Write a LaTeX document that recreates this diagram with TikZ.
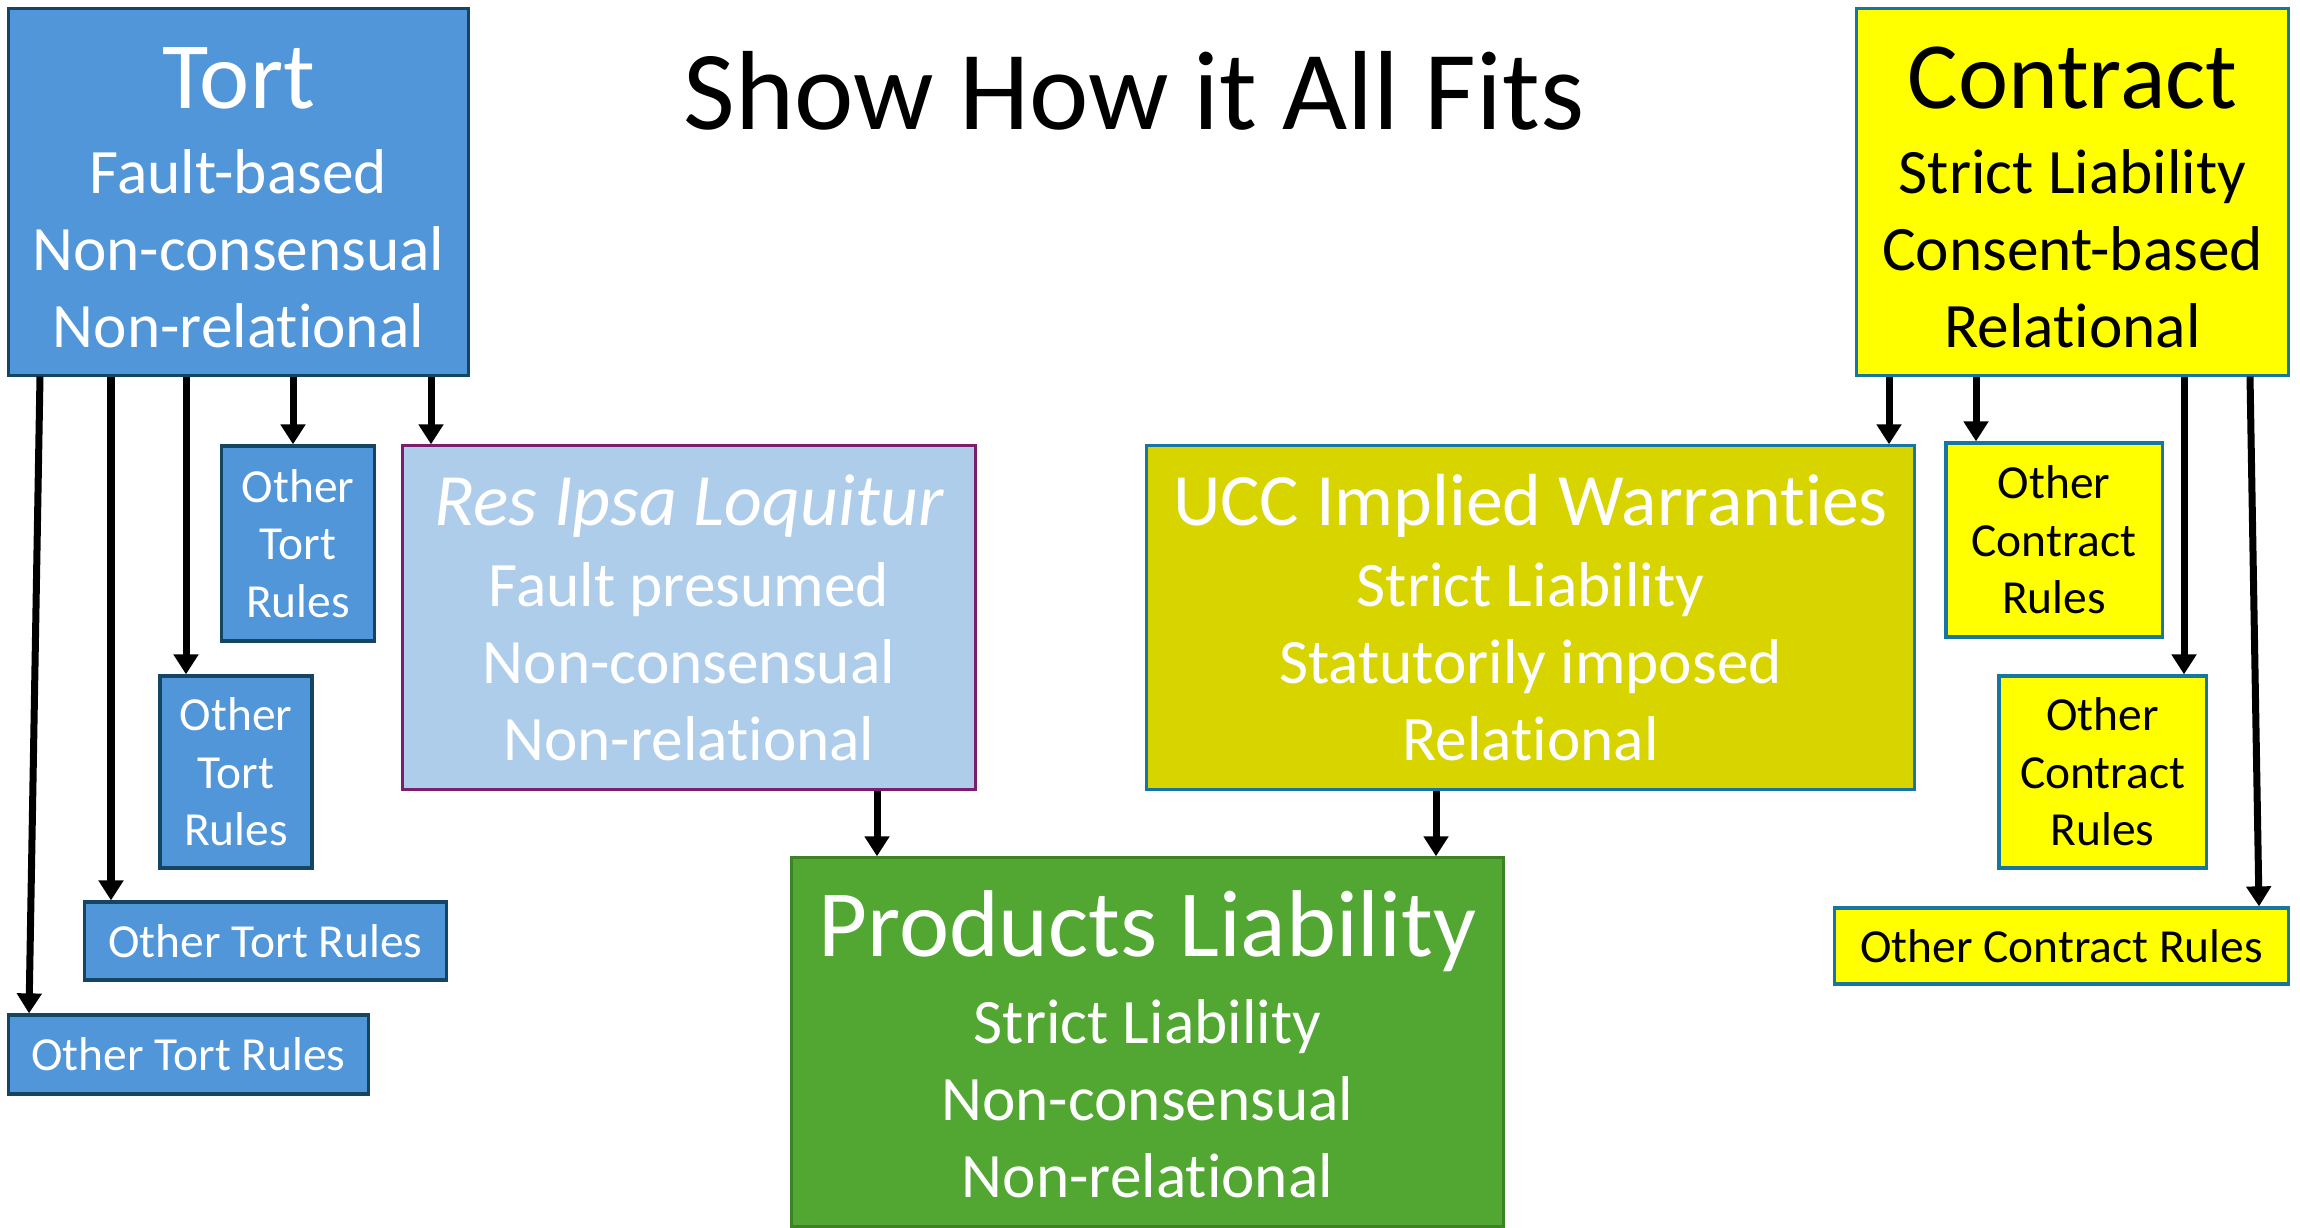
\documentclass[tikz,border=0pt]{standalone}
\usepackage{fontspec}
\setmainfont{Carlito}[Ligatures=NoCommon]
\usetikzlibrary{arrows.meta}

\definecolor{tortblu}{RGB}{81,150,217}
\definecolor{tortbordo}{RGB}{20,70,100}
\definecolor{resfondo}{RGB}{174,205,235}
\definecolor{resbordo}{RGB}{122,30,110}
\definecolor{uccfondo}{RGB}{216,212,0}
\definecolor{contrbordo}{RGB}{22,118,160}
\definecolor{giallo}{RGB}{255,255,0}
\definecolor{prodfondo}{RGB}{82,166,50}
\definecolor{prodbordo}{RGB}{62,130,38}

\newcommand{\grande}{\fontsize{27}{32}\selectfont}
\newcommand{\voce}{\fontsize{18}{21.9}\selectfont}
\newcommand{\piccolo}{\fontsize{13.5}{16.3}\selectfont}

\tikzset{
  riquadro/.style = {draw, line width=0.9pt, inner sep=0pt, align=center},
  torto/.style = {riquadro, fill=tortblu, draw=tortbordo, text=white},
  contratto/.style = {riquadro, fill=giallo, draw=contrbordo, text=black},
  freccia/.style = {-{Triangle[width=2.4mm,length=2mm]}, line width=0.7mm},
}

\begin{document}
\begin{tikzpicture}[x=0.01cm, y=-0.01cm]
    \useasboundingbox (0,0) rectangle (2300,1228);
    % Titolo
    \node[anchor=base, font=\fontsize{32}{38}\selectfont] (titolo) at (1134,130) {Show How it All Fits};
    % Riquadri principali
    \node[torto, font=\voce, minimum width=45.9mm, minimum height=36.6mm] (tort) at (238.5,192)
        {{\grande\rule{0pt}{20.5pt}Tort}\\[2.3pt] Fault-based\\ Non-consensual\\ Non-relational};
    \node[contratto, font=\voce, minimum width=43.1mm, minimum height=36.6mm] (contract) at (2072.5,192)
        {{\grande\rule{0pt}{20.5pt}Contract}\\[2.3pt] Strict Liability\\ Consent-based\\ Relational};
    \node[riquadro, fill=resfondo, draw=resbordo, text=white, font=\voce, minimum width=57.2mm, minimum height=34.3mm] (resipsa) at (689,617.5)
        {{\fontsize{21}{25}\selectfont\itshape Res Ipsa Loquitur}\\[1.1pt] Fault presumed\\ Non-consensual\\ Non-relational};
    \node[riquadro, fill=uccfondo, draw=contrbordo, text=white, font=\voce, minimum width=76.7mm, minimum height=34.3mm] (ucc) at (1530.5,617.5)
        {{\fontsize{21}{25}\selectfont UCC Implied Warranties}\\[1.1pt] Strict Liability\\ Statutorily imposed\\ Relational};
    \node[riquadro, fill=prodfondo, draw=prodbordo, text=white, font=\voce, minimum width=71.1mm, minimum height=36.8mm] (prodotti) at (1147.5,1042)
        {{\grande\rule{0pt}{20pt}Products Liability}\\[2.6pt] Strict Liability\\ Non-consensual\\ Non-relational};
    % Altre regole di tort
    \node[torto, font=\piccolo, minimum width=15.3mm, minimum height=19.5mm] (altrot1) at (298,543.5) {Other\\ Tort\\ Rules};
    \node[torto, font=\piccolo, minimum width=15.2mm, minimum height=19.2mm] (altrot2) at (236,772) {Other\\ Tort\\ Rules};
    \node[torto, font=\piccolo, minimum width=36.1mm, minimum height=7.8mm] (altrot3) at (265.5,941) {Other Tort Rules};
    \node[torto, font=\piccolo, minimum width=35.9mm, minimum height=7.9mm] (altrot4) at (188.5,1054.5) {Other Tort Rules};
    % Altre regole di contratto
    \node[contratto, font=\piccolo, minimum width=21.6mm, minimum height=19.4mm] (altroc1) at (2054,540) {Other\\ Contract\\ Rules};
    \node[contratto, font=\piccolo, minimum width=20.7mm, minimum height=19.2mm] (altroc2) at (2102.5,772) {Other\\ Contract\\ Rules};
    \node[contratto, font=\piccolo, minimum width=45.3mm, minimum height=7.6mm] (altroc3) at (2061.5,946) {Other Contract Rules};
    % Ascisse delle frecce
    \coordinate (fa) at (40,0);   \coordinate (fa') at (29,0);
    \coordinate (fb) at (111,0);
    \coordinate (fc) at (186,0);
    \coordinate (fd) at (293,0);
    \coordinate (fe) at (431,0);
    \coordinate (ff) at (1889,0);
    \coordinate (fg) at (1976,0);
    \coordinate (fh) at (2184,0);
    \coordinate (fi) at (2250,0); \coordinate (fi') at (2259,0);
    \coordinate (fj) at (877,0);
    \coordinate (fk) at (1436,0);
    % Frecce
    \draw[freccia] (fa |- tort.south) -- (fa' |- altrot4.north);
    \draw[freccia] (fb |- tort.south) -- (fb |- altrot3.north);
    \draw[freccia] (fc |- tort.south) -- (fc |- altrot2.north);
    \draw[freccia] (fd |- tort.south) -- (fd |- altrot1.north);
    \draw[freccia] (fe |- tort.south) -- (fe |- resipsa.north);
    \draw[freccia] (ff |- contract.south) -- (ff |- ucc.north);
    \draw[freccia] (fg |- contract.south) -- (fg |- altroc1.north);
    \draw[freccia] (fh |- contract.south) -- (fh |- altroc2.north);
    \draw[freccia] (fi |- contract.south) -- (fi' |- altroc3.north);
    \draw[freccia] (fj |- resipsa.south) -- (fj |- prodotti.north);
    \draw[freccia] (fk |- ucc.south) -- (fk |- prodotti.north);
\end{tikzpicture}
\end{document}
